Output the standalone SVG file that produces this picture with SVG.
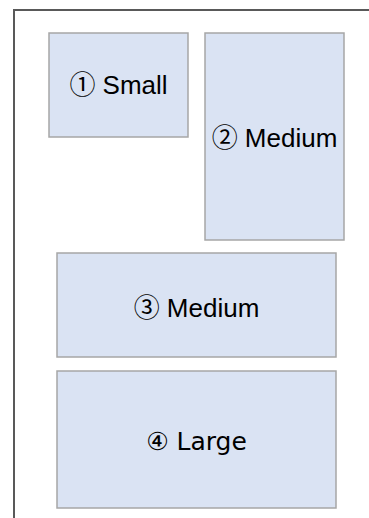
<svg xmlns="http://www.w3.org/2000/svg" width="369" height="518" viewBox="0 0 369 518">
  <style>
    .frame { fill: none; stroke: #595959; stroke-width: 2; }
    .box { fill: #dae3f3; stroke: #a6a6a6; stroke-width: 1.5; }
    .lbl { font-family: "Liberation Sans", Arial, "Noto Sans CJK JP", sans-serif; font-size: 26px; fill: #000; text-anchor: middle; }
    .lbl-alt { font-family: "DejaVu Sans", Verdana, "Noto Sans CJK JP", sans-serif; font-size: 25px; fill: #000; text-anchor: middle; }
  </style>
  <rect width="369" height="518" fill="#ffffff"/>
  <!-- container outline: top and left edges only -->
  <path class="frame" d="M14 518 V10 H369"/>
  <g id="small">
    <rect class="box" x="49" y="33" width="139" height="104"/>
    <text class="lbl" x="118.5" y="94">① Small</text>
  </g>
  <g id="medium-tall">
    <rect class="box" x="205" y="33" width="139" height="207"/>
    <text class="lbl" x="274.5" y="147">② Medium</text>
  </g>
  <g id="medium-wide">
    <rect class="box" x="57" y="253" width="279" height="104"/>
    <text class="lbl" x="196.5" y="317">③ Medium</text>
  </g>
  <g id="large">
    <rect class="box" x="57" y="371" width="279" height="137"/>
    <text class="lbl-alt" x="196.5" y="450">④ Large</text>
  </g>
  <g id="connectors"/>
</svg>
